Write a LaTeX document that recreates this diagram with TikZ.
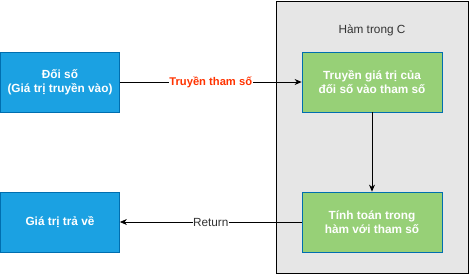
\documentclass[tikz,border=0pt]{standalone}
\usepackage{fontspec}
\setmainfont{Liberation Sans}
\usepackage{xcolor}
\usepackage{tikz}
\usetikzlibrary{arrows.meta,positioning,calc}
\definecolor{skyblue}{HTML}{1BA1E2}
\definecolor{deepblue}{HTML}{006EAF}
\definecolor{leaf}{HTML}{97D077}
\definecolor{panel}{HTML}{E6E6E6}
\definecolor{flame}{HTML}{FF3300}
\definecolor{ink}{HTML}{333333}
\newcommand{\boxfont}{\fontsize{11.8}{14}\selectfont}
\tikzset{
  valuebox/.style={
    rectangle, draw=deepblue, fill=#1, line width=0.8pt,
    minimum width=119pt, minimum height=60pt,
    font=\boxfont\bfseries, text=white, align=center,
    inner sep=3pt
  },
  valuebox/.default=skyblue,
  stepbox/.style={valuebox=leaf, minimum width=140pt},
  funcpanel/.style={rectangle, draw=black, fill=panel, line width=0.8pt},
  dataarrow/.style={
    -{Stealth[length=7pt,width=6pt]}, line width=0.8pt, color=black
  },
  edgelabel/.style={fill=white, inner sep=0.5pt,
    font=\boxfont, text=#1},
  edgelabel/.default=ink,
}

\begin{document}
\begin{tikzpicture}[x=1pt, y=-1pt]
  \useasboundingbox (0,0) rectangle (469,274);
  % the function body
  \draw[funcpanel] (276,1) rectangle (468,273);
  \node[font=\boxfont, text=ink] (title) at (372,30) {Hàm trong C};
  \node[stepbox] (pass) at (372,82) {Truyền giá trị của\\đối số vào tham số};
  \node[stepbox] (calc) at (372,222) {Tính toán trong\\hàm với tham số};
  % caller side
  \node[valuebox] (arg) at (60,82) {Đối số\\(Giá trị truyền vào)};
  \node[valuebox] (ret) at (60,222) {Giá trị trả về};
  \draw[dataarrow] (arg) -- node[edgelabel=flame, font=\fontsize{11.2}{13}\selectfont\bfseries] {Truyền tham số} (pass);
  \draw[dataarrow] (pass) -- (calc);
  \draw[dataarrow] (calc) -- node[edgelabel] {Return} (ret);
\end{tikzpicture}
\end{document}
